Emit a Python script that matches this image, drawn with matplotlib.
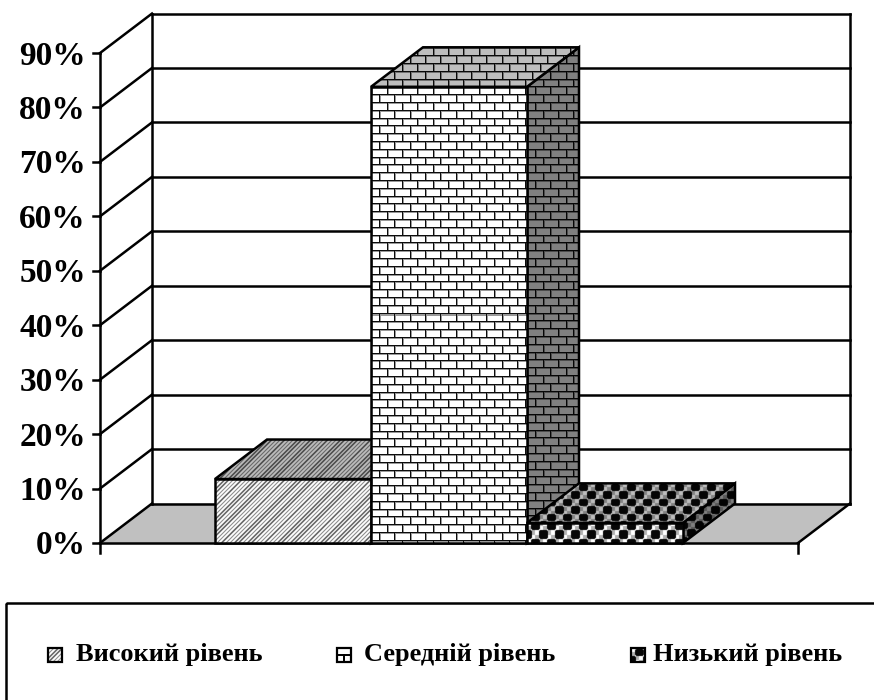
import numpy as np
import matplotlib
matplotlib.use("Agg")
import matplotlib.pyplot as plt
from matplotlib.patches import Polygon, Rectangle

categories = ["Високий рівень", "Середній рівень", "Низький рівень"]
values = [11.75, 83.8, 3.7]
y_ticks = [0, 10, 20, 30, 40, 50, 60, 70, 80, 90]
y_tick_labels = ["0%", "10%", "20%", "30%", "40%", "50%", "60%", "70%", "80%", "90%"]

W, H = 874, 700
FONT = "Liberation Serif"

# 1 category = 156 px, 1 percent = 5.444 px, first bar centre at px (293, 543)
PX_X = 156.0
PX_Y = 5.444
DX = 52 / PX_X
DY = 39.5 / PX_Y
BAR = 1.0
X_LEFT = -193 / PX_X
X_RIGHT = 505 / PX_X


def soft(img):
    # small blur, the reference is a rescaled bitmap
    out = img * 0.6
    out = out + 0.1 * (np.roll(img, 1, 0) + np.roll(img, -1, 0) + np.roll(img, 1, 1) + np.roll(img, -1, 1))
    return out


def bricks(nx, ny):
    yy, xx = np.mgrid[0:ny, 0:nx].astype(float)
    row = np.floor(yy / 7.8)
    off = (row % 2) * 7.65
    ym = yy % 7.8
    xm = (xx + off) % 15.3
    img = np.ones((ny, nx))
    img[(ym >= 1) & (ym < 2)] = 0.6
    img[(xm >= 1) & (xm < 2)] = 0.6
    img[ym < 1] = 0.05
    img[xm < 1] = 0.05
    return img


def stripes(nx, ny):
    yy, xx = np.mgrid[0:ny, 0:nx].astype(float)
    d = (xx + yy) % 4.3
    img = np.ones((ny, nx))
    img[d < 1.5] = 0.3
    return soft(img)


def spheres(nx, ny):
    yy, xx = np.mgrid[0:ny, 0:nx].astype(float)
    row = np.floor(yy / 7.6)
    cell = ((np.floor(xx / 4) + np.floor(yy / 4)) % 2)
    img = np.where(cell == 0, 1.0, 0.7)
    off = (row % 2) * 8.0
    dx = ((xx + off) % 16) - 8
    dy = (yy % 7.6) - 3.8
    r = np.sqrt(dx ** 2 + dy ** 2)
    img[r < 4.8] = 0.03
    return soft(img)


def pattern_fill(ax, verts, pattern, shade):
    verts = np.array(verts)
    x0, x1 = verts[:, 0].min(), verts[:, 0].max()
    y0, y1 = verts[:, 1].min(), verts[:, 1].max()
    nx = max(int(round((x1 - x0) * PX_X)), 1)
    ny = max(int(round((y1 - y0) * PX_Y)), 1)
    img = pattern(nx, ny) * shade
    im = ax.imshow(img, extent=(x0, x1, y0, y1), cmap="gray", vmin=0, vmax=1,
                   aspect="auto", interpolation="nearest", zorder=3)
    poly = Polygon(verts, closed=True, facecolor="none", edgecolor="black", linewidth=1.8, zorder=3)
    ax.add_patch(poly)
    im.set_clip_path(poly)


fig = plt.figure(figsize=(W / 100, H / 100), dpi=100)
ax = fig.add_axes([0, 0, 1, 1])
ax.axis("off")

top = y_ticks[-1]
line = dict(color="black", linewidth=1.8, solid_capstyle="projecting")

# floor
ax.add_patch(Polygon([(X_LEFT, 0), (X_RIGHT, 0), (X_RIGHT + DX, DY), (X_LEFT + DX, DY)],
                     closed=True, facecolor="#c0c0c0", edgecolor="none", zorder=1))

# walls and grid
for t, lab in zip(y_ticks, y_tick_labels):
    ax.plot([X_LEFT, X_LEFT + DX], [t, t + DY], zorder=2, **line)
    ax.plot([X_LEFT + DX, X_RIGHT + DX], [t + DY, t + DY], zorder=2, **line)
    ax.plot([X_LEFT - 7 / PX_X, X_LEFT], [t, t], zorder=2, **line)
    ax.text(X_LEFT - 14 / PX_X, t - 3 / PX_Y, lab, ha="right", va="center",
            family=FONT, fontweight="bold", fontsize=24, zorder=5)
ax.plot([X_LEFT, X_LEFT], [-10 / PX_Y, top], zorder=2, **line)
ax.plot([X_LEFT + DX, X_LEFT + DX], [DY, top + DY], zorder=2, **line)
ax.plot([X_RIGHT + DX, X_RIGHT + DX], [DY, top + DY], zorder=2, **line)
ax.plot([X_LEFT, X_RIGHT], [0, 0], zorder=2, **line)
ax.plot([X_RIGHT, X_RIGHT + DX], [0, DY], zorder=2, **line)
ax.plot([X_RIGHT, X_RIGHT], [-10 / PX_Y, 0], zorder=2, **line)

# bars, left to right so the next one covers the side of the previous one
patterns = [stripes, bricks, spheres]
for i, v in enumerate(values):
    l, r = i - BAR / 2, i + BAR / 2
    pattern_fill(ax, [(r, 0), (r + DX, DY), (r + DX, v + DY), (r, v)], patterns[i], 0.5)
    pattern_fill(ax, [(l, v), (r, v), (r + DX, v + DY), (l + DX, v + DY)], patterns[i], 0.74)
    pattern_fill(ax, [(l, 0), (r, 0), (r, v), (l, v)], patterns[i], 1.0)

ax.set_xlim(-293 / PX_X, (W - 293) / PX_X)
ax.set_ylim(-(H - 543) / PX_Y, 543 / PX_Y)

# legend, laid out in figure pixels
leg = fig.add_axes([0, 0, 1, 1], facecolor="none")
leg.axis("off")
leg.add_patch(Rectangle((5.5, 603), W + 20, H, facecolor="none", edgecolor="black", linewidth=1.8))
key_x = [48, 337, 631]
text_x = [76, 364, 653]
for i, name in enumerate(categories):
    n = 14
    leg.add_patch(Rectangle((key_x[i], 648), n, n, facecolor="none", edgecolor="black", linewidth=1.6, zorder=4))
    if i == 1:
        leg.plot([key_x[i], key_x[i] + n], [655, 655], color="black", linewidth=1.4, zorder=4)
        leg.plot([key_x[i] + n / 2, key_x[i] + n / 2], [655, 662], color="black", linewidth=1.4, zorder=4)
    else:
        leg.imshow(patterns[i](n, n), extent=(key_x[i], key_x[i] + n, 648 + n, 648),
                   cmap="gray", vmin=0, vmax=1, aspect="auto", interpolation="nearest", zorder=3)
    leg.text(text_x[i], 655, name, ha="left", va="center", family=FONT, fontweight="bold", fontsize=19)
leg.set_xlim(0, W)
leg.set_ylim(H, 0)

fig.savefig("out.png", dpi=100)
